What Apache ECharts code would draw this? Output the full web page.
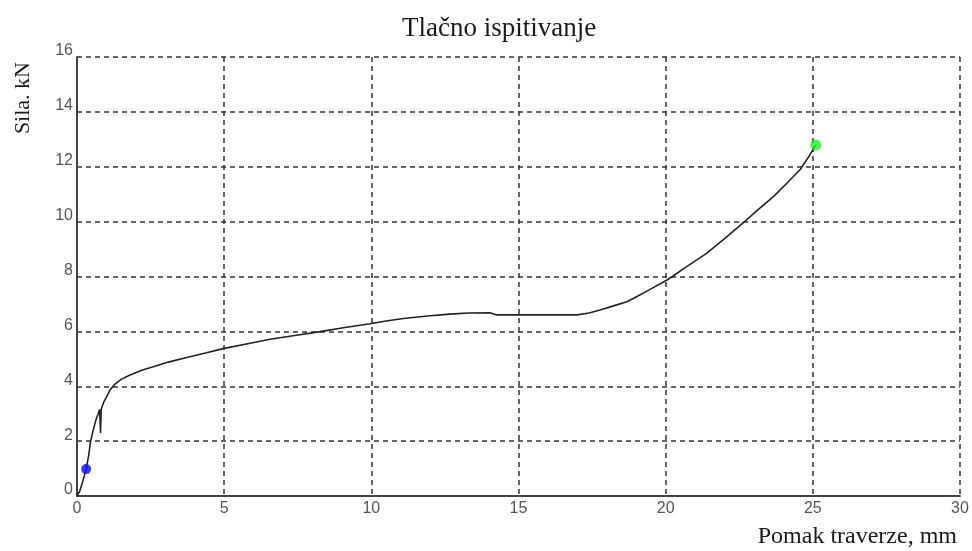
<!DOCTYPE html>
<html>
<head>
<meta charset="utf-8">
<script src="https://cdn.jsdelivr.net/npm/echarts@6/dist/echarts.min.js"></script>
<style>html,body{margin:0;padding:0;background:#fff}#c{width:972px;height:551px}</style>
</head>
<body>
<div id="c"></div>
<script>
var titleText = 'Tlačno ispitivanje';
var xName = 'Pomak traverze, mm';
var yName = 'Sila. kN';
var dispX = [0, 0.1, 0.2, 0.31, 0.4, 0.46, 0.55, 0.65, 0.72, 0.77, 0.8, 0.82, 0.9, 1.0, 1.12, 1.29, 1.5, 1.8, 2.2, 2.59, 3.1, 3.73, 4.4, 5.0, 5.8, 6.56, 7.4, 8.26, 9.1, 9.96, 10.5, 11.09, 11.9, 12.67, 13.3, 14.03, 14.26, 15.05, 16.0, 16.98, 17.4, 17.77, 18.2, 18.68, 18.9, 19.47, 20.09, 20.7, 21.39, 22.0, 22.64, 23.1, 23.66, 24.1, 24.57, 24.85, 25.1];
var forceY = [0, 0.2, 0.55, 0.98, 1.5, 1.98, 2.4, 2.8, 3.0, 3.15, 2.3, 3.15, 3.4, 3.6, 3.86, 4.08, 4.25, 4.41, 4.58, 4.71, 4.88, 5.05, 5.22, 5.38, 5.55, 5.71, 5.85, 5.99, 6.14, 6.28, 6.38, 6.47, 6.56, 6.63, 6.67, 6.68, 6.6, 6.6, 6.6, 6.6, 6.67, 6.78, 6.92, 7.08, 7.2, 7.53, 7.9, 8.35, 8.84, 9.38, 9.96, 10.4, 10.91, 11.38, 11.9, 12.35, 12.79];
var startPoint = [0.31, 0.98];
var endPoint = [25.1, 12.79];

var series = dispX.map(function (x, i) { return [x, forceY[i]]; });
var chart = echarts.init(document.getElementById('c'));
var gridLine = { show: true, lineStyle: { color: '#333', type: [5, 4], width: 1.5 } };
chart.setOption({
  animation: false,
  backgroundColor: '#fff',
  title: {
    text: titleText, left: 397, top: 10,
    textStyle: { fontFamily: 'Liberation Serif', fontSize: 27, fontWeight: 'normal', color: '#1a1a1a' }
  },
  grid: { left: 77, right: 12, top: 57, bottom: 55 },
  xAxis: {
    type: 'value', min: 0, max: 30, interval: 5,
    name: xName, nameLocation: 'end', nameGap: -3,
    nameTextStyle: { fontFamily: 'Liberation Serif', fontSize: 24, color: '#1a1a1a', align: 'right', verticalAlign: 'top', padding: [29, 0, 0, 0] },
    axisLine: { show: true, onZero: false, lineStyle: { color: '#444', width: 2 } },
    axisTick: { show: false },
    axisLabel: { fontFamily: 'Liberation Sans', fontSize: 16, color: '#555', margin: 5 },
    splitLine: gridLine
  },
  yAxis: {
    type: 'value', min: 0, max: 16, interval: 2,
    axisLine: { show: true, onZero: false, lineStyle: { color: '#444', width: 2 } },
    axisTick: { show: false },
    axisLabel: { fontFamily: 'Liberation Sans', fontSize: 16, color: '#555', margin: 4, verticalAlign: 'bottom', lineHeight: 12 },
    splitLine: gridLine
  },
  graphic: [{
    type: 'text', left: 12, top: 62, rotation: Math.PI / 2,
    style: { text: yName, font: '22px "Liberation Serif"', fill: '#1a1a1a' }
  }],
  series: [
    { type: 'line', data: series, showSymbol: false, smooth: false,
      lineStyle: { color: '#222', width: 1.6 }, z: 3 },
    { type: 'scatter', data: [startPoint], symbolSize: 10,
      itemStyle: { color: '#0a0aff' }, z: 4 },
    { type: 'scatter', data: [endPoint], symbolSize: 11,
      itemStyle: { color: '#22ee22' }, z: 4 }
  ]
});
</script>
</body>
</html>
